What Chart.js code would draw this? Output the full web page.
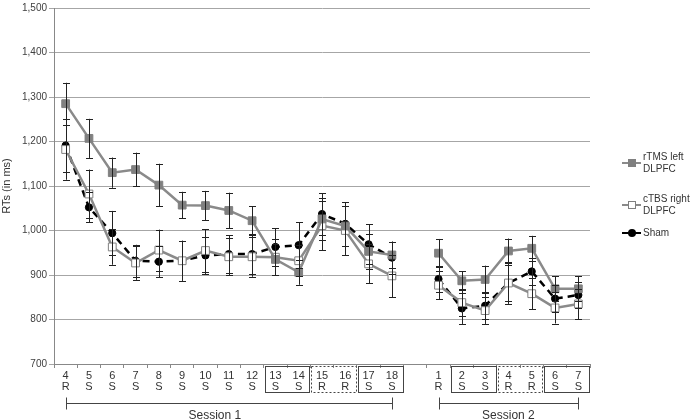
<!DOCTYPE html>
<html><head><meta charset="utf-8">
<script src="https://cdn.jsdelivr.net/npm/chart.js@4.4.1/dist/chart.umd.min.js"></script>
<style>
html,body{margin:0;padding:0;background:#fff;}
#wrap{position:relative;width:697px;height:419px;}
#c{position:absolute;left:0;top:0;}
.lg{position:absolute;font-family:"Liberation Sans",Arial,sans-serif;font-size:10px;line-height:12px;color:#333;}
.ln{position:absolute;height:2px;}
.mk{position:absolute;box-sizing:border-box;}
</style></head>
<body><div id="wrap"><canvas id="c" width="697" height="419"></canvas>
<div class="ln" style="left:622px;top:162px;width:19px;background:#8a8a8a"></div>
<div class="mk" style="left:628px;top:159px;width:8px;height:8px;background:#808080"></div>
<div class="lg" style="left:643px;top:151px">rTMS left<br>DLPFC</div>
<div class="ln" style="left:622px;top:204px;width:19px;background:#8a8a8a"></div>
<div class="mk" style="left:628px;top:201px;width:8px;height:8px;background:#fff;border:1px solid #808080"></div>
<div class="lg" style="left:643px;top:193px">cTBS right<br>DLPFC</div>
<div class="ln" style="left:622px;top:232px;width:19px;background:#000"></div>
<div class="mk" style="left:628px;top:229px;width:8px;height:8px;background:#000;border-radius:50%"></div>
<div class="lg" style="left:643px;top:227px">Sham</div>
</div>
<script>
const categories = [["4","R"],["5","S"],["6","S"],["7","S"],["8","S"],["9","S"],["10","S"],["11","S"],["12","S"],["13","S"],["14","S"],["15","R"],["16","R"],["17","S"],["18","S"],"",["1","R"],["2","S"],["3","S"],["4","R"],["5","R"],["6","S"],["7","S"]];
const rtmsValues = [1285,1207,1130,1137,1102,1057,1056,1045,1022,935,906,1026,1010,953,945,null,949,887,890,954,960,869,869];
const ctbsValues = [1182,1082,963,927,956,932,955,941,941,940,932,1011,1000,925,898,null,877,838,820,882,858,826,835];
const shamValues = [1191,1052,994,932,930,932,944,947,947,963,967,1037,1015,969,939,null,891,825,831,882,908,847,855];
const rtmsErrors = [47,44,34,38,48,30,33,40,32,35,28,48,45,40,30,null,32,21,31,28,28,28,28];
const ctbsErrors = [68,55,40,38,46,45,48,42,45,40,35,55,55,44,48,null,31,30,30,40,35,35,34];
const shamErrors = [60,34,50,36,35,45,42,42,45,42,51,47,49,45,36,null,30,35,30,47,30,30,30];
const yTicks = [700,800,900,1000,1100,1200,1300,1400,1500];
const boxGroups = [[9,10,false],[11,12,true],[13,14,false],[17,18,false],[19,20,true],[21,22,false]];
const sessions = [["Session 1",0,14,6.4],["Session 2",16,22,19]];

const errorBars = {
  id:'errorBars',
  afterDatasetsDraw(chart){
    const ctx=chart.ctx, y=chart.scales.y, x=chart.scales.x;
    const errs=[rtmsErrors,ctbsErrors,shamErrors];
    ctx.save();
    ctx.strokeStyle='#222'; ctx.lineWidth=1;
    chart.data.datasets.forEach((ds,di)=>{
      ds.data.forEach((v,i)=>{
        if(v==null) return;
        const e=errs[di][i];
        const px=Math.round(x.getPixelForValue(i))+0.5;
        const t=y.getPixelForValue(v+e), b=y.getPixelForValue(v-e);
        ctx.beginPath();
        ctx.moveTo(px,t);ctx.lineTo(px,b);
        ctx.moveTo(px-3.5,Math.round(t)+0.5);ctx.lineTo(px+3.5,Math.round(t)+0.5);
        ctx.moveTo(px-3.5,Math.round(b)+0.5);ctx.lineTo(px+3.5,Math.round(b)+0.5);
        ctx.stroke();
      });
    });
    ctx.restore();
  }
};
const annot = {
  id:'annot',
  afterDraw(chart){
    const ctx=chart.ctx, x=chart.scales.x, ca=chart.chartArea;
    const half=(x.getPixelForValue(1)-x.getPixelForValue(0))/2;
    ctx.save();
    ctx.strokeStyle='#444'; ctx.lineWidth=1;
    boxGroups.forEach(([a,b,dotted])=>{
      const l=Math.round(x.getPixelForValue(a)-half)+1.5, r=Math.round(x.getPixelForValue(b)+half)-0.5;
      ctx.setLineDash(dotted?[2,2]:[]);
      ctx.strokeRect(l,ca.bottom+2.5,r-l,26);
    });
    ctx.setLineDash([]);
    const sy=Math.round(ca.bottom+39)+0.5;
    ctx.font='12px "Liberation Sans", Arial, sans-serif';
    ctx.fillStyle='#333'; ctx.textAlign='center'; ctx.textBaseline='middle';
    sessions.forEach(([name,a,b,m])=>{
      const l=Math.round(x.getPixelForValue(a))+0.5, r=Math.round(x.getPixelForValue(b))+0.5;
      ctx.beginPath();
      ctx.moveTo(l,sy);ctx.lineTo(r,sy);
      ctx.moveTo(l,sy-6);ctx.lineTo(l,sy+6);
      ctx.moveTo(r,sy-6);ctx.lineTo(r,sy+6);
      ctx.stroke();
      ctx.fillText(name,x.getPixelForValue(m),sy+12);
    });
    ctx.restore();
  }
};

new Chart(document.getElementById('c'),{
  type:'line',
  data:{labels:categories,datasets:[
    {label:'rTMS left DLPFC',data:rtmsValues,borderColor:'#8a8a8a',backgroundColor:'#808080',borderWidth:2.5,pointStyle:'rect',pointRadius:5.5,pointBorderColor:'#808080',pointBackgroundColor:'#808080',pointBorderWidth:1,spanGaps:false,tension:0},
    {label:'cTBS right DLPFC',data:ctbsValues,borderColor:'#8a8a8a',backgroundColor:'#fff',borderWidth:2.5,pointStyle:'rect',pointRadius:5.5,pointBorderColor:'#808080',pointBackgroundColor:'#fff',pointBorderWidth:1,spanGaps:false,tension:0},
    {label:'Sham',data:shamValues,borderColor:'#000',backgroundColor:'#000',borderWidth:2.5,borderDash:[7,5],pointStyle:'circle',pointRadius:3.6,pointBorderColor:'#000',pointBackgroundColor:'#000',pointBorderWidth:1,spanGaps:false,tension:0}
  ]},
  options:{
    responsive:false,animation:false,
    layout:{padding:{top:5,right:107,left:0,bottom:0}},
    plugins:{legend:{display:false},tooltip:{enabled:false}},
    scales:{
      x:{
        offset:true,
        afterFit(s){s.height=55;},
        grid:{drawOnChartArea:false,tickLength:4,color:'#888',offset:true},
        border:{color:'#888'},
        ticks:{autoSkip:false,maxRotation:0,padding:2,color:'#333',font:{family:'"Liberation Sans", Arial, sans-serif',size:11,lineHeight:1.05}}
      },
      y:{
        min:700,max:1500,
        afterFit(s){s.width=54;},
        afterBuildTicks(s){s.ticks=yTicks.map(v=>({value:v}));},
        grid:{color:'#a6a6a6',drawTicks:true,tickLength:5},
        border:{color:'#888'},
        title:{display:true,text:'RTs (in ms)',color:'#333',padding:{top:0,bottom:0},font:{family:'"Liberation Sans", Arial, sans-serif',size:11}},
        ticks:{padding:2,color:'#404040',font:{family:'"Liberation Sans", Arial, sans-serif',size:10},callback:v=>v.toLocaleString('en-US')}
      }
    }
  },
  plugins:[errorBars,annot]
});
</script></body></html>
